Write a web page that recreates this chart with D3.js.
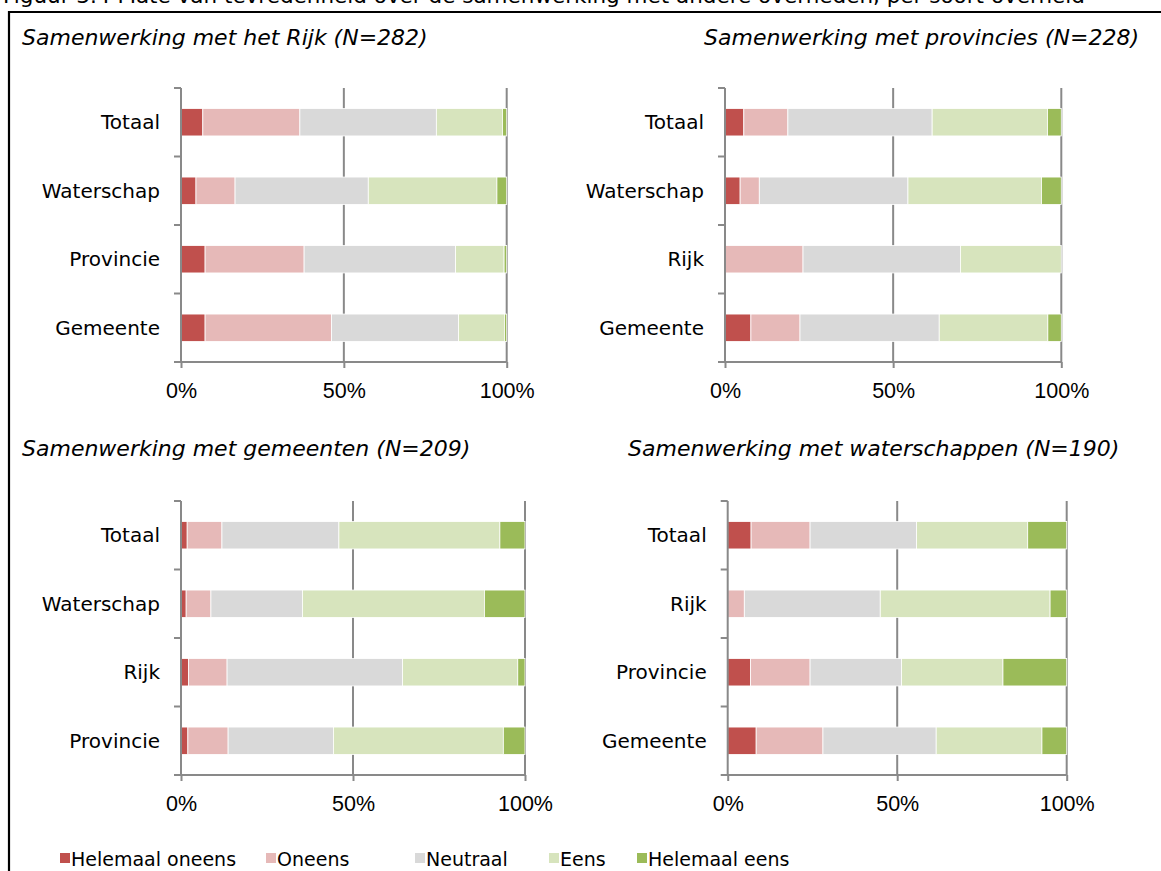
<!DOCTYPE html>
<html>
<head>
<meta charset="utf-8">
<script src="https://cdn.jsdelivr.net/npm/d3@7"></script>
<style>
  html, body { margin: 0; padding: 0; background: #fff; }
  svg { display: block; }
</style>
</head>
<body>
<svg id="chart" width="1161" height="871"></svg>
<script>
// ---- DATA ----
const seriesNames = ["Helemaal oneens", "Oneens", "Neutraal", "Eens", "Helemaal eens"];
const seriesColors = ["#C0504D", "#E6B9B8", "#D9D9D9", "#D7E4BD", "#9BBB59"];

const figureCaption = "Figuur 3.4 Mate van tevredenheid over de samenwerking met andere overheden, per soort overheid";

const rijkTitle = "Samenwerking met het Rijk (N=282)";
const rijkCategories = ["Totaal", "Waterschap", "Provincie", "Gemeente"];
const rijkValues = [
  [6.7, 29.8, 41.9, 20.3, 1.3],
  [4.6, 12.0, 40.9, 39.5, 3.0],
  [7.4, 30.4, 46.5, 14.9, 0.8],
  [7.4, 38.8, 39.0, 14.1, 0.7]
];

const provTitle = "Samenwerking met provincies (N=228)";
const provCategories = ["Totaal", "Waterschap", "Rijk", "Gemeente"];
const provValues = [
  [5.6, 13.1, 42.9, 34.3, 4.1],
  [4.5, 5.7, 44.2, 39.7, 5.9],
  [0.0, 23.2, 46.8, 30.0, 0.0],
  [7.7, 14.6, 41.4, 32.3, 4.0]
];

const gemTitle = "Samenwerking met gemeenten (N=209)";
const gemCategories = ["Totaal", "Waterschap", "Rijk", "Provincie"];
const gemValues = [
  [1.8, 10.1, 34.0, 46.8, 7.3],
  [1.5, 7.2, 26.6, 52.9, 11.8],
  [2.2, 11.2, 51.0, 33.5, 2.1],
  [2.0, 11.7, 30.6, 49.4, 6.3]
];

const wsTitle = "Samenwerking met waterschappen (N=190)";
const wsCategories = ["Totaal", "Rijk", "Provincie", "Gemeente"];
const wsValues = [
  [6.9, 17.4, 31.4, 32.8, 11.5],
  [0.0, 4.9, 40.1, 50.1, 4.9],
  [6.7, 17.6, 27.0, 29.9, 18.8],
  [8.4, 19.7, 33.4, 31.2, 7.3]
];

const xTickValues = [0, 50, 100];
const xTickLabels = ["0%", "50%", "100%"];

// ---- LAYOUT ----
const svg = d3.select("#chart");
const FONT = "'DejaVu Sans', 'Open Sans', sans-serif";
const AXIS_FONT = "'Liberation Sans', Arial, sans-serif";
const gridColor = "#898989";

// figure caption, cut off at the top edge (as in the reference)
svg.append("text")
  .attr("x", 3).attr("y", 3)
  .attr("font-family", FONT).attr("font-size", 21.5)
  .attr("fill", "#000")
  .text(figureCaption);

// frame
svg.append("path")
  .attr("d", "M9,871 L9,12 L1161,12")
  .attr("fill", "none").attr("stroke", "#000").attr("stroke-width", 2.2);

const panels = [
  { title: rijkTitle, cats: rijkCategories, vals: rijkValues, x0: 181, x1: 506.7, y0: 88, y1: 362, tx: 22, ty: 45 },
  { title: provTitle, cats: provCategories, vals: provValues, x0: 725, x1: 1061.3, y0: 88, y1: 362, tx: 704, ty: 45 },
  { title: gemTitle, cats: gemCategories, vals: gemValues, x0: 181, x1: 525, y0: 501, y1: 775, tx: 22, ty: 456 },
  { title: wsTitle, cats: wsCategories, vals: wsValues, x0: 727.7, x1: 1066.7, y0: 501, y1: 775, tx: 628, ty: 456 }
];

panels.forEach(p => {
  const g = svg.append("g");
  const x = d3.scaleLinear().domain([0, 100]).range([p.x0, p.x1]);
  const y = d3.scaleBand().domain(p.cats).range([p.y0, p.y1]).paddingInner(0.6).paddingOuter(0.3);

  // title
  g.append("text")
    .attr("x", p.tx).attr("y", p.ty)
    .attr("font-family", FONT).attr("font-style", "italic").attr("font-size", 22)
    .attr("fill", "#000")
    .text(p.title);

  // gridlines
  g.selectAll("line.grid").data(xTickValues.filter(v => v > 0)).enter().append("line")
    .attr("class", "grid")
    .attr("x1", d => x(d)).attr("x2", d => x(d))
    .attr("y1", p.y0).attr("y2", p.y1)
    .attr("stroke", gridColor).attr("stroke-width", 2);

  // stacked bars
  const rows = p.cats.map((c, i) => {
    const o = { cat: c };
    seriesNames.forEach((s, j) => o[s] = p.vals[i][j]);
    return o;
  });
  const stack = d3.stack().keys(seriesNames)(rows);
  stack.forEach((layer, j) => {
    g.selectAll(null).data(layer.filter(d => d[1] - d[0] > 0)).enter().append("rect")
      .attr("x", d => x(d[0]))
      .attr("width", d => x(d[1]) - x(d[0]))
      .attr("y", d => y(d.data.cat))
      .attr("height", y.bandwidth())
      .attr("fill", seriesColors[j])
      .attr("stroke", "#fff").attr("stroke-width", 0.8);
  });

  // category axis
  const bounds = d3.range(p.cats.length + 1).map(i => p.y0 + (p.y1 - p.y0) * i / p.cats.length);
  g.append("line")
    .attr("x1", p.x0).attr("x2", p.x0).attr("y1", p.y0).attr("y2", p.y1)
    .attr("stroke", gridColor).attr("stroke-width", 2);
  g.selectAll("line.ctick").data(bounds.slice(0, -1)).enter().append("line")
    .attr("class", "ctick")
    .attr("x1", p.x0 - 7).attr("x2", p.x0).attr("y1", d => d).attr("y2", d => d)
    .attr("stroke", gridColor).attr("stroke-width", 2);
  g.selectAll("text.cat").data(p.cats).enter().append("text")
    .attr("class", "cat")
    .attr("x", p.x0 - 21)
    .attr("y", d => y(d) + y.bandwidth() / 2)
    .attr("dy", "0.36em")
    .attr("text-anchor", "end")
    .attr("font-family", FONT).attr("font-size", 20).attr("fill", "#000")
    .text(d => d);

  // value axis
  const xAxis = d3.axisBottom(x).tickValues(xTickValues)
    .tickFormat((d, i) => xTickLabels[i]).tickSize(6).tickSizeOuter(0);
  const ax = g.append("g").attr("transform", `translate(0,${p.y1})`).call(xAxis);
  ax.select(".domain").remove();
  ax.append("line").attr("x1", p.x0 - 7).attr("x2", p.x1).attr("y1", 0).attr("y2", 0)
    .attr("stroke", gridColor).attr("stroke-width", 2);
  ax.selectAll(".tick line").attr("stroke", gridColor).attr("stroke-width", 2);
  ax.selectAll(".tick text")
    .attr("y", 21).attr("dy", "0.71em")
    .attr("font-family", AXIS_FONT).attr("font-size", 21.5).attr("fill", "#000");
});

// legend
const legendX = [60, 266, 415, 549, 637];
const legend = svg.append("g");
seriesNames.forEach((s, i) => {
  legend.append("rect")
    .attr("x", legendX[i]).attr("y", 853).attr("width", 10).attr("height", 10)
    .attr("fill", seriesColors[i]);
  legend.append("text")
    .attr("x", legendX[i] + 11).attr("y", 865.5)
    .attr("font-family", FONT).attr("font-size", 19).attr("fill", "#000")
    .text(s);
});
</script>
</body>
</html>
